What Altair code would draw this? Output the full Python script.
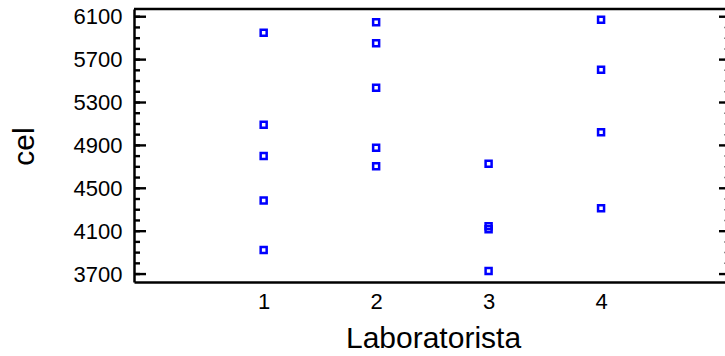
import altair as alt
import pandas as pd

# ---- data ----
lab = [1, 1, 1, 1, 1,
       2, 2, 2, 2, 2,
       3, 3, 3, 3,
       4, 4, 4, 4]
cel = [5951, 5093, 4801, 4387, 3924,
       6048, 5852, 5438, 4878, 4705,
       4729, 4145, 4117, 3728,
       6072, 5606, 5022, 4313]

y_major = [3700, 4100, 4500, 4900, 5300, 5700, 6100]
y_minor = [3700, 3800, 3900, 4000, 4100, 4200, 4300, 4400, 4500, 4600, 4700,
           4800, 4900, 5000, 5100, 5200, 5300, 5400, 5500, 5600, 5700, 5800,
           5900, 6000, 6100]
x_ticks = [1, 2, 3, 4]

x_domain = [-0.153, 5.102]
y_domain = [3626, 6172]

W, H = 591, 273
FONT = "Liberation Sans"

pts = pd.DataFrame({"Laboratorista": lab, "cel": cel})
major = pd.DataFrame({"v": y_major})
minor = pd.DataFrame({"v": y_minor})

xs = alt.Scale(domain=x_domain, nice=False, zero=False)
ys = alt.Scale(domain=y_domain, nice=False, zero=False)

points = alt.Chart(pts).mark_point(
    shape="square", filled=False, color="#0000FF", size=36, strokeWidth=2.5, opacity=1
).encode(
    x=alt.X("Laboratorista:Q", scale=xs,
            axis=alt.Axis(values=x_ticks, format="d", ticks=False, grid=False,
                          domainColor="black", domainWidth=2.5,
                          labelFont=FONT, labelFontSize=22, labelColor="black",
                          labelPadding=9, title="Laboratorista",
                          titleFont=FONT, titleFontSize=30, titleFontWeight="normal",
                          titleColor="black", titleX=299, titleY=65,
                          titleAlign="center", titleBaseline="alphabetic")),
    y=alt.Y("cel:Q", scale=ys,
            axis=alt.Axis(values=y_major, format="d", ticks=False, grid=False,
                          domainColor="black", domainWidth=2.5,
                          labelFont=FONT, labelFontSize=22, labelColor="black",
                          labelPadding=12, title="cel",
                          titleFont=FONT, titleFontSize=30, titleFontWeight="normal",
                          titleColor="black", titleAngle=-90, titleX=-101, titleY=137,
                          titleAlign="center", titleBaseline="alphabetic")),
)

yq = alt.Y("v:Q", scale=ys)

left_major = alt.Chart(major).mark_rule(color="black", strokeWidth=2.4).encode(
    y=yq, x=alt.value(0), x2=alt.value(12))
left_minor = alt.Chart(minor).mark_rule(color="black", strokeWidth=2.4).encode(
    y=yq, x=alt.value(0), x2=alt.value(6))
right_major = alt.Chart(major).mark_rule(color="black", strokeWidth=2.4).encode(
    y=yq, x=alt.value(W - 6), x2=alt.value(W))
right_minor = alt.Chart(minor).mark_rule(color="#888888", strokeWidth=1.5).encode(
    y=yq, x=alt.value(W - 1), x2=alt.value(W))
top_line = alt.Chart(major.head(1)).mark_rule(color="black", strokeWidth=2.5).encode(
    y=alt.value(0), x=alt.value(0), x2=alt.value(W))

chart = alt.layer(
    left_minor, left_major, right_minor, right_major, top_line, points
).properties(
    width=W, height=H,
    autosize=alt.AutoSizeParams(type="none"),
    padding={"left": 134, "top": 9, "right": 0, "bottom": 74},
    background="white",
).configure_view(stroke=None)

chart.save("out.html", embed_options={"renderer": "svg", "actions": False})
